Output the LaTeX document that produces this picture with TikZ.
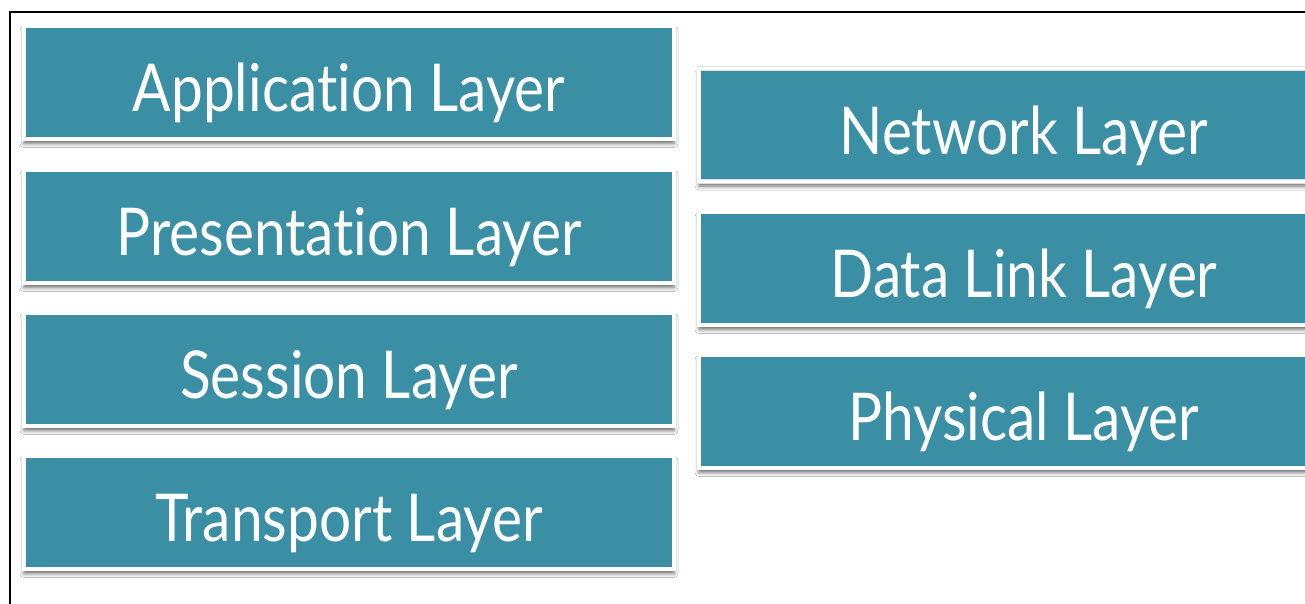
\documentclass[tikz,border=0pt]{standalone}
\usepackage{fontspec}
\setmainfont{Lato}[Ligatures=NoCommon, FakeStretch=0.86]
\usetikzlibrary{shadows.blur}
\definecolor{layerteal}{RGB}{58,143,164}

\def\leftlist{{(349,82.5)/app/Application Layer}, {(349,226.5)/pres/Presentation Layer}, {(349,369.5)/sess/Session Layer}, {(349,512.5)/trans/Transport Layer}}
\def\rightlist{{(1024,125)/net/Network Layer}, {(1024,268.5)/link/Data Link Layer}, {(1024,411.5)/phys/Physical Layer}}
\tikzstyle{layer}=[rectangle, fill=layerteal, draw=black!13, double=white, line width=0.6pt, double distance=3.6pt, minimum width=650pt, minimum height=113pt, inner sep=0pt, text=white, font=\fontsize{66}{70}\selectfont, text height=58pt, text depth=0pt, blur shadow={shadow xshift=0pt, shadow yshift=-4.5pt, shadow blur radius=4pt, shadow opacity=60}]

\begin{document}
\begin{tikzpicture}[x=1pt, y=-1pt]
  \useasboundingbox (0,0) rectangle (1305,603);
  \fill[white] (0,0) rectangle (1305,603);
  \draw[line width=2pt] (10,620) -- (10,12) -- (1320,12);

  \foreach \pos/\name/\label in \leftlist {
    \node[layer] (\name) at \pos {\label};
  }
  \foreach \pos/\name/\label in \rightlist {
    \node[layer] (\name) at \pos {\label};
  }
\end{tikzpicture}
\end{document}
